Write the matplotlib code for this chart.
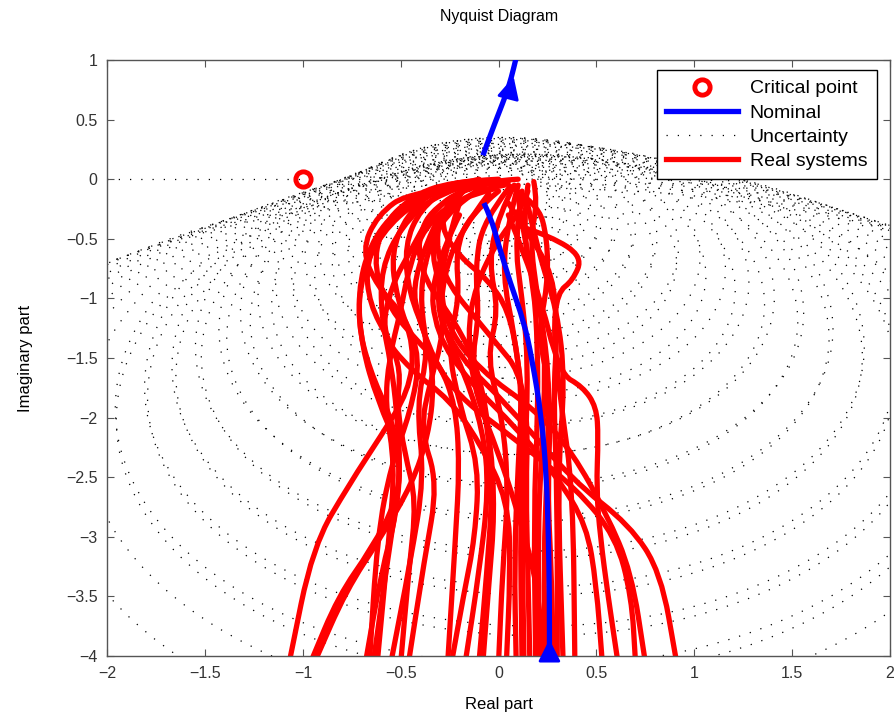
import numpy as np
import matplotlib.pyplot as plt
from matplotlib.patches import Circle, PathPatch
from matplotlib.path import Path
from matplotlib.lines import Line2D
from matplotlib.ticker import FuncFormatter

plt.rcParams['font.family'] = ['Liberation Sans', 'DejaVu Sans']

# Critical point and the stretch of real axis drawn up to it
critical_point = (-1.0, 0.0)
real_axis_x = [-2.0, -1.0]
real_axis_y = [0.0, 0.0]

# Nominal Nyquist curve (negative and positive frequency branches)
nom_upper = [(-0.08, 0.20), (-0.04, 0.38), (0.0, 0.55), (0.04, 0.72), (0.065, 0.85), (0.09, 1.02)]
nom_lower = [(-0.075, -0.20), (-0.04, -0.32), (0.0, -0.55), (0.06, -0.87), (0.13, -1.20),
             (0.17, -1.50), (0.22, -2.00), (0.245, -2.50), (0.255, -3.00), (0.26, -3.50),
             (0.26, -4.02)]
arrow_upper = [(0.058, 0.74), (0.077, 0.86)]
arrow_lower = [(0.26, -4.0), (0.26, -3.86)]

# Uncertainty discs: centre and radius per frequency
unc_cx = [0.0, -0.02, -0.03, -0.04, -0.05, -0.06, -0.07, -0.07, -0.06, -0.05, -0.04, -0.02,
          0.0, 0.02, 0.05, 0.07, 0.09, 0.12, 0.14, 0.16, 0.18, 0.20, 0.21, 0.22,
          0.23, 0.24, 0.245, 0.25, 0.255, 0.26, 0.26, 0.265, 0.27, 0.27,
          -0.06, -0.06, -0.05, -0.04, -0.03, -0.01, 0.01, 0.03, 0.06, 0.08, 0.10,
          0.13, 0.15, 0.17, 0.19, 0.205, 0.215]
unc_cy = [-0.15, -0.15, -0.16, -0.17, -0.19, -0.21, -0.24, -0.27, -0.31, -0.36, -0.42, -0.49,
          -0.57, -0.66, -0.76, -0.87, -0.99, -1.12, -1.26, -1.41, -1.57, -1.74, -1.92, -2.11,
          -2.31, -2.52, -2.74, -2.97, -3.21, -3.46, -3.72, -3.99, -4.27, -4.56,
          -0.22, -0.28, -0.34, -0.40, -0.46, -0.53, -0.61, -0.70, -0.81, -0.93, -1.05,
          -1.19, -1.33, -1.49, -1.65, -1.83, -2.02]
unc_r = [0.25, 0.28, 0.31, 0.35, 0.39, 0.43, 0.48, 0.53, 0.59, 0.66, 0.74, 0.83,
         0.92, 1.01, 1.11, 1.21, 1.32, 1.44, 1.57, 1.71, 1.85, 2.01, 2.17, 2.34,
         2.52, 2.71, 2.90, 3.10, 3.31, 3.53, 3.76, 3.99, 4.23, 4.48,
         0.32, 0.40, 0.47, 0.54, 0.61, 0.69, 0.78, 0.88, 1.00, 1.13, 1.26,
         1.40, 1.54, 1.69, 1.84, 2.00, 2.17]

# Frequency responses of the real (identified) systems, sketch points
real_systems = [
    [(0.05, -0.02), (-0.15, 0.0), (-0.32, -0.08), (-0.47, -0.3), (-0.55, -0.62), (-0.52, -1.0),
     (-0.43, -1.4), (-0.46, -1.78), (-0.6, -2.15), (-0.76, -2.55), (-0.95, -3.08), (-1.07, -4.05)],
    [(0.0, -0.04), (-0.22, -0.04), (-0.42, -0.18), (-0.6, -0.45), (-0.7, -0.8), (-0.72, -1.2),
     (-0.66, -1.6), (-0.55, -2.0), (-0.5, -2.35), (-0.52, -2.7), (-0.65, -3.1), (-0.82, -3.5), (-0.96, -4.05)],
    [(-0.05, -0.02), (-0.25, -0.06), (-0.4, -0.25), (-0.48, -0.55), (-0.46, -0.95), (-0.36, -1.35),
     (-0.33, -1.75), (-0.36, -2.15), (-0.44, -2.55), (-0.6, -3.0), (-0.78, -3.45), (-0.94, -4.05)],
    [(0.02, -0.03), (-0.3, -0.05), (-0.52, -0.25), (-0.66, -0.55), (-0.72, -0.95), (-0.7, -1.4),
     (-0.62, -1.85), (-0.5, -2.3), (-0.52, -2.8), (-0.6, -3.3), (-0.68, -4.05)],
    [(-0.1, -0.02), (-0.32, -0.12), (-0.5, -0.4), (-0.6, -0.75), (-0.6, -1.15), (-0.55, -1.55),
     (-0.52, -1.95), (-0.5, -2.5), (-0.56, -3.1), (-0.64, -4.05)],
    [(-0.02, -0.08), (-0.2, -0.15), (-0.38, -0.4), (-0.46, -0.75), (-0.5, -1.1), (-0.56, -1.5),
     (-0.58, -1.9), (-0.53, -2.4), (-0.56, -3.0), (-0.62, -4.05)],
    [(0.03, -0.05), (-0.15, -0.1), (-0.3, -0.35), (-0.38, -0.7), (-0.4, -1.05), (-0.36, -1.45),
     (-0.42, -1.9), (-0.38, -2.5), (-0.45, -3.2), (-0.55, -4.05)],
    [(-0.08, -0.06), (-0.25, -0.25), (-0.35, -0.55), (-0.3, -0.9), (-0.28, -1.3), (-0.35, -1.7),
     (-0.4, -2.1), (-0.31, -2.55), (-0.38, -3.2), (-0.46, -4.05)],
    [(-0.1, 0.0), (-0.35, -0.1), (-0.58, -0.38), (-0.68, -0.7), (-0.66, -1.05), (-0.56, -1.35),
     (-0.5, -1.6), (-0.52, -1.9), (-0.48, -2.3), (-0.42, -2.7), (-0.46, -3.3), (-0.5, -4.05)],
    [(-0.05, -0.03), (-0.45, -0.1), (-0.62, -0.3), (-0.7, -0.6), (-0.62, -0.9), (-0.48, -1.15),
     (-0.4, -1.5), (-0.45, -1.95), (-0.55, -2.4), (-0.62, -3.0), (-0.66, -4.05)],
    [(0.0, 0.0), (-0.25, -0.02), (-0.45, -0.15), (-0.6, -0.4), (-0.64, -0.75), (-0.55, -1.1),
     (-0.42, -1.35), (-0.3, -1.55), (-0.22, -1.9), (-0.2, -2.4), (-0.22, -3.0), (-0.26, -4.05)],
    [(0.0, -0.02), (-0.2, -0.08), (-0.35, -0.3), (-0.45, -0.6), (-0.55, -0.9), (-0.6, -1.3),
     (-0.45, -1.6), (-0.25, -1.85), (-0.1, -2.2), (0.05, -2.7), (0.06, -3.3), (0.04, -4.05)],
    [(0.0, -0.1), (-0.15, -0.3), (-0.22, -0.6), (-0.2, -1.0), (-0.26, -1.4), (-0.2, -1.9),
     (-0.1, -2.4), (-0.12, -3.0), (-0.18, -3.5), (-0.24, -4.05)],
    [(-0.05, -0.12), (-0.2, -0.45), (-0.28, -0.8), (-0.3, -1.2), (-0.18, -1.6), (-0.08, -2.1),
     (-0.05, -2.6), (-0.1, -3.3), (-0.17, -4.05)],
    [(0.05, -0.08), (-0.08, -0.35), (-0.12, -0.75), (-0.1, -1.15), (-0.14, -1.55), (-0.06, -2.0),
     (-0.03, -2.6), (-0.06, -3.3), (-0.1, -4.05)],
    [(-0.12, -0.05), (-0.32, -0.2), (-0.42, -0.5), (-0.38, -0.85), (-0.22, -1.2), (-0.1, -1.6),
     (-0.04, -2.2), (-0.02, -2.8), (-0.05, -3.4), (-0.08, -4.05)],
    [(-0.15, -0.05), (-0.3, -0.3), (-0.32, -0.6), (-0.25, -0.9), (-0.1, -1.2), (0.0, -1.4),
     (0.1, -1.6), (0.15, -2.0), (0.14, -2.6), (0.15, -3.3), (0.16, -4.05)],
    [(0.08, -0.05), (0.0, -0.3), (-0.05, -0.7), (0.0, -1.1), (-0.06, -1.5), (0.02, -2.0),
     (0.05, -2.6), (0.02, -3.3), (0.0, -4.05)],
    [(0.1, 0.0), (-0.1, -0.02), (-0.25, -0.15), (-0.3, -0.4), (-0.2, -0.65), (-0.05, -0.85),
     (0.05, -1.1), (0.1, -1.5), (0.13, -2.0), (0.11, -2.8), (0.12, -4.05)],
    [(0.1, -0.05), (0.05, -0.35), (0.02, -0.8), (0.08, -1.3), (0.12, -1.8), (0.1, -2.4),
     (0.08, -3.2), (0.09, -4.05)],
    [(0.12, -0.1), (0.08, -0.5), (0.12, -1.0), (0.15, -1.5), (0.14, -2.2), (0.12, -3.0), (0.13, -4.05)],
    [(0.15, -0.05), (0.12, -0.4), (0.18, -0.9), (0.2, -1.4), (0.2, -2.0), (0.18, -2.8), (0.19, -4.05)],
    [(0.15, -0.1), (0.1, -0.3), (0.0, -0.5), (-0.12, -0.9), (-0.16, -1.3), (-0.12, -1.8),
     (0.0, -2.3), (0.1, -2.8), (0.2, -3.4), (0.23, -4.05)],
    [(0.1, -0.15), (0.14, -0.6), (0.22, -1.1), (0.24, -1.6), (0.22, -2.3), (0.2, -3.0), (0.21, -4.05)],
    [(0.18, -0.02), (0.2, -0.2), (0.16, -0.5), (0.2, -1.0), (0.26, -1.6), (0.25, -2.4),
     (0.23, -3.2), (0.24, -4.05)],
    [(0.05, -0.05), (0.2, -0.2), (0.25, -0.5), (0.25, -0.9), (0.2, -1.3), (0.27, -1.8),
     (0.25, -2.6), (0.27, -3.3), (0.28, -4.05)],
    [(0.05, -0.2), (0.15, -0.45), (0.28, -0.8), (0.3, -1.3), (0.28, -1.8), (0.3, -2.6), (0.3, -4.05)],
    [(0.14, -0.15), (0.2, -0.6), (0.3, -1.1), (0.34, -1.7), (0.3, -2.5), (0.33, -4.05)],
    [(0.12, -0.4), (0.27, -0.48), (0.43, -0.65), (0.38, -0.85), (0.3, -0.95), (0.28, -1.3),
     (0.32, -1.9), (0.38, -2.6), (0.39, -4.05)],
    [(0.05, -0.3), (0.2, -0.9), (0.31, -1.63), (0.43, -1.74), (0.5, -1.91), (0.51, -2.16),
     (0.5, -2.6), (0.52, -3.0), (0.56, -3.5), (0.61, -4.05)],
    [(-0.2, -0.3), (-0.35, -0.8), (-0.32, -1.3), (-0.15, -1.7), (0.1, -2.1), (0.3, -2.5),
     (0.45, -2.9), (0.5, -3.4), (0.53, -4.05)],
    [(-0.3, -0.3), (-0.45, -0.8), (-0.4, -1.25), (-0.25, -1.77), (0.1, -2.2), (0.4, -2.6),
     (0.6, -3.0), (0.68, -3.5), (0.7, -4.05)],
    [(-0.2, -0.2), (-0.3, -0.7), (-0.28, -1.2), (-0.1, -1.6), (0.2, -1.95), (0.38, -2.3),
     (0.55, -2.8), (0.68, -3.3), (0.75, -4.05)],
    [(-0.25, -0.5), (-0.35, -1.0), (-0.2, -1.5), (0.05, -1.9), (0.38, -2.53), (0.67, -2.9),
     (0.83, -3.3), (0.91, -4.05)],
]

x_ticks = [-2, -1.5, -1, -0.5, 0, 0.5, 1, 1.5, 2]
y_ticks = [1, 0.5, 0, -0.5, -1, -1.5, -2, -2.5, -3, -3.5, -4]

dotted = (0, (1, 8))
red = '#ff0000'
blue = '#0000ff'
line_w = 3.8


def smooth_path(points):
    # quadratic Bezier through the sketch points (points act as control vertices)
    pts = np.asarray(points, dtype=float)
    verts = [pts[0]]
    codes = [Path.MOVETO]
    for i in range(1, len(pts) - 1):
        verts += [pts[i], (pts[i] + pts[i + 1]) / 2]
        codes += [Path.CURVE3, Path.CURVE3]
    verts.append(pts[-1])
    codes.append(Path.LINETO)
    return Path(verts, codes)


fig = plt.figure(figsize=(8.94, 7.18), dpi=100)
ax = fig.add_axes([0.1202, 0.0864, 0.875, 0.830])

for cx, cy, r in zip(unc_cx, unc_cy, unc_r):
    ax.add_patch(Circle((cx, cy), r, fill=False, ec='k', lw=0.9, ls=dotted, zorder=1))
ax.plot(real_axis_x, real_axis_y, color='k', lw=0.9, ls=dotted, zorder=1)

for curve in real_systems:
    ax.add_patch(PathPatch(smooth_path(curve), fill=False, ec=red, lw=line_w,
                           capstyle='round', joinstyle='round', zorder=2))

for branch in [nom_upper, nom_lower]:
    ax.add_patch(PathPatch(smooth_path(branch), fill=False, ec=blue, lw=line_w,
                           capstyle='butt', zorder=3))
for (x0, y0), (x1, y1) in [arrow_upper, arrow_lower]:
    ax.annotate('', xy=(x1, y1), xytext=(x0, y0),
                arrowprops=dict(arrowstyle='-|>,head_length=0.9,head_width=0.45',
                                color=blue, lw=2, mutation_scale=15,
                                shrinkA=0, shrinkB=0), zorder=4)

ax.plot(*critical_point, 'o', mfc='none', mec=red, mew=3.5, ms=11, zorder=5)

ax.set_xlim(-2, 2)
ax.set_ylim(-4, 1)
ax.set_xticks(x_ticks)
ax.set_yticks(y_ticks)
fmt = FuncFormatter(lambda v, p: ('%g' % v).replace('-', '\u2212'))
ax.xaxis.set_major_formatter(fmt)
ax.yaxis.set_major_formatter(fmt)
ax.tick_params(direction='in', top=True, right=True, length=5, width=0.8,
               color='#555555', labelcolor='#333333', labelsize=11.5, pad=7)
for s in ax.spines.values():
    s.set_color('#555555')
    s.set_linewidth(1.0)

ax.set_title('Nyquist Diagram', fontsize=11.5, pad=28)
ax.set_xlabel('Real part', fontsize=12, labelpad=12)
ax.set_ylabel('Imaginary part', fontsize=12, labelpad=24)

handles = [
    Line2D([], [], ls='none', marker='o', mfc='none', mec=red, mew=3.5, ms=11),
    Line2D([], [], color=blue, lw=line_w),
    Line2D([], [], color='k', lw=0.9, ls=dotted),
    Line2D([], [], color=red, lw=line_w),
]
labels = ['Critical point', 'Nominal', 'Uncertainty', 'Real systems']
leg = ax.legend(handles, labels, loc='upper right', bbox_to_anchor=(0.984, 0.983),
                borderaxespad=0, fontsize=14, handlelength=3.7, handletextpad=0.6,
                labelspacing=0.33, borderpad=0.5, fancybox=False, framealpha=1,
                edgecolor='k')
leg.get_frame().set_linewidth(1.0)
leg.set_zorder(10)

fig.savefig('out.png', dpi=100)
